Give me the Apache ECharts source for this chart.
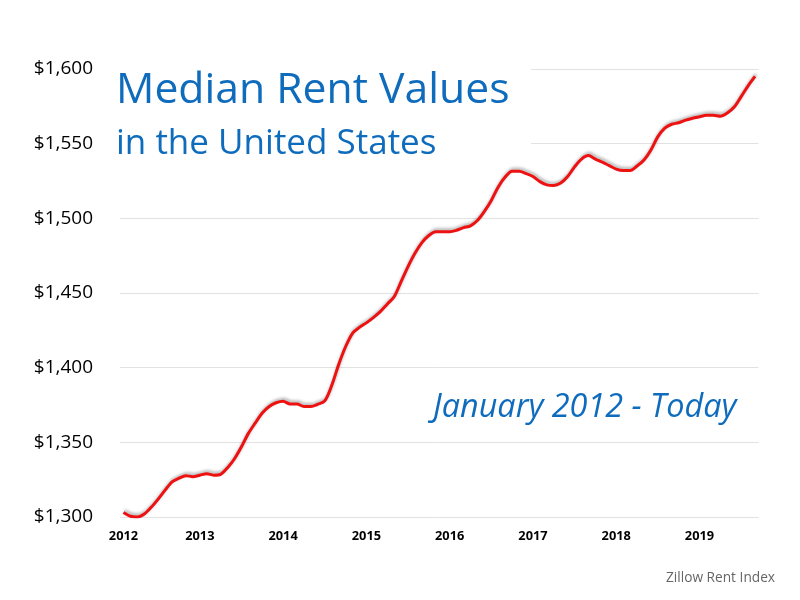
<!DOCTYPE html>
<html>
<head>
<meta charset="utf-8">
<title>Median Rent Values</title>
<script src="https://cdn.jsdelivr.net/npm/echarts@6/dist/echarts.min.js"></script>
<style>
    html, body { margin: 0; background: #fff; }
    #chart { width: 800px; height: 600px; }
</style>
</head>
<body>
<div id="chart"></div>
<script>
// Monthly rent, January 2012 to August 2019
const rentValues = [
    1303, 1300.5, 1300, 1302, 1306.5, 1312, 1318, 1323.5, 1326, 1327.7, 1327, 1328,
    1329, 1328, 1328.6, 1333, 1339, 1347, 1356, 1363, 1369.6, 1374, 1376.5, 1377.5,
    1375.7, 1375.7, 1374, 1374, 1375.5, 1377.7, 1388, 1402, 1414, 1423, 1427, 1430,
    1433.5, 1437.5, 1442.5, 1447.5, 1457.6, 1467.7, 1476.6, 1483.7, 1488.5, 1491, 1491, 1491,
    1492, 1493.8, 1495, 1498.5, 1504.6, 1512, 1521, 1527.6, 1531.5, 1531.5, 1530, 1528,
    1524.6, 1522.4, 1522, 1523.6, 1528, 1534.5, 1539.7, 1542, 1539.7, 1537.6, 1535.3, 1533,
    1532, 1532, 1535, 1539, 1545.8, 1554.7, 1560.4, 1563, 1564, 1565.8, 1567, 1568,
    1569, 1569, 1568.3, 1570.5, 1574.5, 1581.5, 1588.7, 1595
];
const yearLabels = ['2012', '2013', '2014', '2015', '2016', '2017', '2018', '2019'];
const yearPositions = [0, 11, 23, 35, 47, 59, 71, 83];

const categories = rentValues.map((v, i) => {
    const at = yearPositions.indexOf(i);
    return at >= 0 ? yearLabels[at] : '';
});

const chart = echarts.init(document.getElementById('chart'));
const BLUE = '#0f6cbd';
const FONT = '"Open Sans", "Noto Sans", sans-serif';

chart.setOption({
    animation: false,
    backgroundColor: '#fff',
    grid: { left: 120, right: 41.5, top: 69, bottom: 83 },
    title: [
        { text: 'Median Rent Values', left: 111, top: 64, textStyle: { color: BLUE, fontFamily: FONT, fontSize: 42.7, fontWeight: 'normal' } },
        { text: 'in the United States', left: 111, top: 122, textStyle: { color: BLUE, fontFamily: FONT, fontSize: 35, fontWeight: 'normal' } },
        { text: 'January 2012 - Today', left: 428, top: 387, textStyle: { color: BLUE, fontFamily: FONT, fontSize: 32.4, fontStyle: 'italic', fontWeight: 'normal' } },
        { text: 'Zillow Rent Index', right: 20, top: 566, textStyle: { color: '#666', fontFamily: FONT, fontSize: 13.7, fontWeight: 'normal' } }
    ],
    // the title box hides the top two gridlines on the left
    graphic: [{
        type: 'rect',
        z: 1,
        shape: { x: 115, y: 60, width: 416, height: 90 },
        style: { fill: '#fff' }
    }],
    xAxis: {
        type: 'category',
        data: categories,
        axisLine: { show: false },
        axisTick: { show: false },
        axisLabel: { interval: 0, color: '#000', fontFamily: FONT, fontSize: 12.8, fontWeight: 'bold', margin: 13 }
    },
    yAxis: {
        type: 'value',
        min: 1300,
        max: 1600,
        interval: 50,
        axisLine: { show: false },
        axisTick: { show: false },
        axisLabel: {
            color: '#000',
            fontFamily: FONT,
            fontSize: 19,
            margin: 27,
            padding: [3, 0, 0, 0],
            formatter: v => '$' + v.toLocaleString('en-US')
        },
        splitLine: { lineStyle: { color: '#e2e2e2', width: 1 } }
    },
    series: [{
        type: 'line',
        data: rentValues,
        smooth: 0.3,
        showSymbol: false,
        z: 3,
        lineStyle: {
            color: '#ee1111',
            width: 3,
            shadowColor: 'rgba(0,0,0,0.3)',
            shadowBlur: 3,
            shadowOffsetX: 1,
            shadowOffsetY: -2
        }
    }]
});
</script>
</body>
</html>
